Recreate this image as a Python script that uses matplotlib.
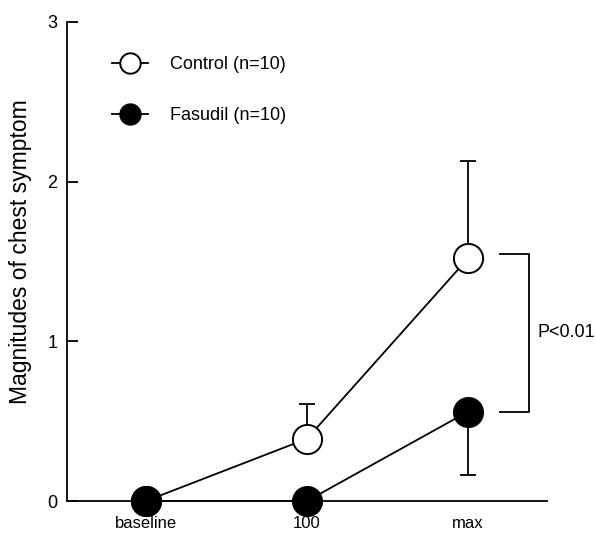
import matplotlib
matplotlib.use("Agg")
import matplotlib.pyplot as plt
import numpy as np

plt.rcParams['font.family'] = ['Liberation Sans', 'DejaVu Sans']

categories = ["baseline", "100", "max"]
control_mean = [0.0, 0.39, 1.52]
control_err_up = [0.0, 0.22, 0.61]
fasudil_mean = [0.0, 0.0, 0.56]
fasudil_err_down = [0.0, 0.0, 0.40]
yticks = [0, 1, 2, 3]
p_text = "P<0.01"

fig = plt.figure(figsize=(5.95, 5.34), dpi=100)
ax = fig.add_axes([67/595, 1 - 501/534, (547-67)/595, (501-22)/534])

x = np.arange(len(categories))
fs = 13
ms = 21
lw = 1.3

# error bars
ax.errorbar(x, control_mean, yerr=[np.zeros(3), control_err_up], fmt='none',
            ecolor='black', elinewidth=lw, capsize=5.5, capthick=lw, zorder=2, clip_on=False)
ax.errorbar(x, fasudil_mean, yerr=[fasudil_err_down, np.zeros(3)], fmt='none',
            ecolor='black', elinewidth=lw, capsize=5.5, capthick=lw, zorder=2, clip_on=False)

ax.plot(x, control_mean, '-o', color='black', mfc='white', mec='black', mew=1.4,
        ms=ms, lw=lw, zorder=3, clip_on=False, label='Control (n=10)')
ax.plot(x, fasudil_mean, '-o', color='black', mfc='black', mec='black', mew=1.4,
        ms=ms, lw=lw, zorder=4, clip_on=False, label='Fasudil (n=10)')

ax.set_xlim(-0.49, 2.49)
ax.set_ylim(0, 3)
ax.set_yticks(yticks)
ax.set_xticks(x)
ax.set_xticklabels(categories, fontsize=12)
ax.tick_params(axis='x', length=0, pad=10.5)
ax.tick_params(axis='y', direction='in', length=8, width=lw, labelsize=fs, pad=7)
for s in ['top', 'right']:
    ax.spines[s].set_visible(False)
for s in ['left', 'bottom']:
    ax.spines[s].set_linewidth(lw)

ax.set_ylabel("Magnitudes of chest symptom", fontsize=16.5)
ax.yaxis.set_label_coords(-0.072, 0.52)

# significance bracket
bx0, bx1 = 2.2, 2.38
ytop = control_mean[2] + 0.03
ybot = fasudil_mean[2]
ax.plot([bx0, bx1, bx1, bx0], [ytop, ytop, ybot, ybot], color='black', lw=lw, clip_on=False)
ax.text(bx1 + 0.05, (ytop + ybot) / 2, p_text, fontsize=fs, va='center', ha='left')

leg = ax.legend(loc='upper left', bbox_to_anchor=(0.06, 0.962), frameon=False, fontsize=fs,
                markerscale=0.7, handlelength=2.0, handletextpad=1.2, labelspacing=1.85)

fig.savefig("out.png", dpi=100)
